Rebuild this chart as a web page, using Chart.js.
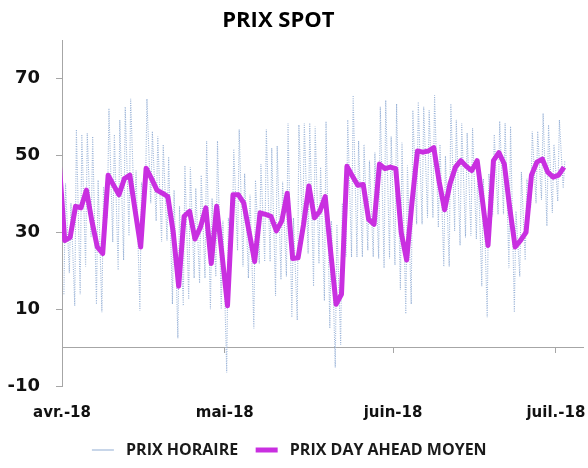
<!DOCTYPE html>
<html>
<head>
<meta charset="utf-8">
<script src="https://cdn.jsdelivr.net/npm/chart.js@4.4.1/dist/chart.umd.min.js"></script>
<style>
  body { margin: 0; background: #fff; }
  #wrap { width: 588px; height: 468px; position: relative; }
</style>
</head>
<body>
<div id="wrap"><canvas id="spotChart"></canvas></div>
<script>
// day 0 = 1 april 2018
const tickDays = [0, 30, 61, 91];
const tickLabels = ["avr.-18", "mai-18", "juin-18", "juil.-18"];
const yTicks = [-10, 10, 30, 50, 70];

// daily day-ahead average, first value is 31 march
const dayAhead = [48,
  27.9, 28.7, 36.8, 36.4, 41.0, 33.0, 26.2, 24.5, 44.9, 42.3,
  39.8, 44.0, 44.9, 35.5, 26.2, 46.7, 44.0, 41.0, 40.2, 39.3,
  30.0, 16.0, 34.2, 35.5, 28.3, 31.3, 36.4, 21.9, 36.8, 24.0,
  10.9, 39.8, 39.8, 37.6, 30.0, 22.4, 35.1, 34.7, 34.2, 30.4,
  33.0, 40.2, 23.2, 23.4, 32.0, 42.1, 33.8, 35.5, 39.3, 25.0,
  11.3, 13.9, 47.2, 44.7, 42.3, 42.5, 33.4, 32.1, 47.8, 46.6,
  47.0, 46.6, 30.0, 22.8, 38.0, 51.2, 50.9, 51.2, 52.1, 43.2,
  35.9, 42.7, 47.0, 48.7, 47.2, 46.1, 48.7, 38.0, 26.6, 48.7,
  50.8, 47.8, 36.4, 26.2, 27.9, 30.0, 44.9, 48.3, 49.1, 45.7,
  44.4, 44.9, 47.0];

// hourly price : daily peak and trough
const hourlyHigh = [
  42.7, 37.6, 56.8, 55.5, 55.9, 55.0, 43.6, 41.9, 62.3, 55.5,
  59.3, 62.7, 64.8, 46.1, 43.0, 64.8, 56.3, 55.0, 52.9, 49.7,
  41.0, 36.8, 47.4, 47.0, 41.5, 44.9, 53.8, 38.9, 53.8, 33.0,
  33.8, 51.7, 56.8, 45.3, 39.8, 43.6, 47.8, 56.8, 52.0, 52.5,
  43.2, 58.5, 33.8, 58.0, 58.5, 58.5, 57.6, 47.0, 58.9, 33.0,
  32.1, 37.6, 59.3, 65.7, 53.8, 52.9, 48.7, 50.8, 62.7, 64.4,
  55.0, 63.5, 53.4, 47.4, 61.8, 64.0, 62.7, 61.8, 65.7, 52.9,
  49.9, 63.5, 59.3, 58.5, 55.9, 57.2, 48.7, 44.0, 45.3, 55.5,
  58.9, 58.5, 57.6, 35.5, 45.7, 44.0, 56.3, 56.3, 61.0, 58.0,
  52.9, 59.3, 48.7];
const hourlyLow = [
  13.9, 19.4, 10.9, 13.9, 21.1, 28.7, 11.3, 9.2, 33.8, 27.5,
  20.2, 22.8, 29.1, 34.2, 9.6, 37.2, 37.6, 33.0, 27.5, 27.9,
  11.3, 2.4, 10.9, 12.6, 18.1, 16.8, 18.1, 10.0, 18.5, 10.0,
  -6.5, 26.2, 25.3, 21.1, 18.1, 5.0, 21.9, 22.4, 22.4, 13.5,
  17.7, 18.5, 7.9, 7.1, 28.7, 24.5, 16.0, 21.9, 12.2, 5.0,
  -5.2, 0.7, 23.6, 23.6, 23.6, 23.6, 25.3, 23.6, 23.2, 20.7,
  23.2, 21.5, 15.1, 8.8, 11.3, 32.1, 32.1, 33.8, 33.8, 31.3,
  21.1, 21.1, 30.4, 26.6, 28.7, 29.1, 28.3, 16.0, 7.9, 34.2,
  34.7, 34.7, 20.7, 9.2, 18.5, 22.8, 36.4, 37.6, 38.5, 31.7,
  35.1, 38.1, 41.5];

const dayAheadPoints = dayAhead.map((v, i) => ({ x: i - 0.5, y: v }));
const hourlyPoints = [];
hourlyLow.forEach((lo, i) => {
  hourlyPoints.push({ x: i + 0.35, y: lo });
  hourlyPoints.push({ x: i + 0.65, y: hourlyHigh[i] });
});

const axisGrey = '#a6a6a6';
const setDayTicks = (scale) => { scale.ticks = tickDays.map(v => ({ value: v })); };
// labels may hang over the plot edges, no extra side padding
const noSidePadding = (scale) => { scale.paddingLeft = 0; scale.paddingRight = 0; };

Chart.defaults.font.family = "'Open Sans', sans-serif";
Chart.defaults.color = '#111';

new Chart('spotChart', {
  type: 'line',
  data: {
    datasets: [{
      label: 'PRIX HORAIRE',
      data: hourlyPoints,
      borderColor: '#9bb4d8',
      borderWidth: 1.1,
      borderDash: [1, 1.3],
      pointRadius: 0,
      order: 1,
      clip: 0
    }, {
      label: 'PRIX DAY AHEAD MOYEN',
      data: dayAheadPoints,
      borderColor: '#c92fe0',
      backgroundColor: '#c92fe0',
      borderWidth: 5,
      borderJoinStyle: 'round',
      pointRadius: 0,
      order: 0,
      clip: 0
    }]
  },
  options: {
    responsive: true,
    maintainAspectRatio: false,
    devicePixelRatio: 1,
    animation: false,
    layout: { padding: { left: 8, right: 5, top: 0, bottom: 0 } },
    plugins: {
      title: {
        display: true,
        text: 'PRIX SPOT\u00a0\u00a0\u00a0\u00a0\u00a0\u00a0',
        color: '#000',
        font: { size: 22, weight: 'bold' },
        padding: { top: 8, bottom: 6 }
      },
      legend: {
        position: 'bottom',
        labels: {
          usePointStyle: true,
          pointStyle: 'line',
          pointStyleWidth: 22,
          padding: 5,
          color: '#1a1a1a',
          font: { size: 16, weight: 'bold' },
          sort: (a, b) => a.datasetIndex - b.datasetIndex,
          generateLabels: (chart) =>
            Chart.defaults.plugins.legend.labels.generateLabels(chart)
              .map(l => ({ ...l, text: ' ' + l.text + '   ' }))
        }
      },
      tooltip: { enabled: false }
    },
    scales: {
      x: {
        type: 'linear',
        min: 0,
        max: 96,
        position: { y: 0 },
        afterBuildTicks: setDayTicks,
        afterFit: noSidePadding,
        ticks: { display: false },
        grid: { drawOnChartArea: false, tickLength: 5, color: axisGrey },
        border: { color: axisGrey }
      },
      x2: {
        type: 'linear',
        min: 0,
        max: 96,
        position: 'bottom',
        afterBuildTicks: setDayTicks,
        afterFit: (scale) => { noSidePadding(scale); scale.height = 51; },
        // invisible tick marks only push the labels down
        grid: { drawOnChartArea: false, tickLength: 18, color: 'rgba(0,0,0,0)' },
        border: { display: false },
        ticks: {
          autoSkip: false,
          maxRotation: 0,
          padding: 0,
          color: '#111',
          font: { family: "'DejaVu Sans', sans-serif", size: 15, weight: 'bold' },
          callback: (v) => tickLabels[tickDays.indexOf(v)]
        }
      },
      y: {
        min: -10,
        max: 80,
        afterBuildTicks: (scale) => { scale.ticks = yTicks.map(v => ({ value: v })); },
        afterFit: (scale) => { scale.width = 54; },
        grid: { drawOnChartArea: false, tickLength: 6, color: axisGrey },
        border: { color: axisGrey },
        ticks: {
          padding: 16,
          color: '#111',
          font: { family: "'DejaVu Sans', sans-serif", size: 18, weight: 'bold' }
        }
      }
    }
  }
});
</script>
</body>
</html>
